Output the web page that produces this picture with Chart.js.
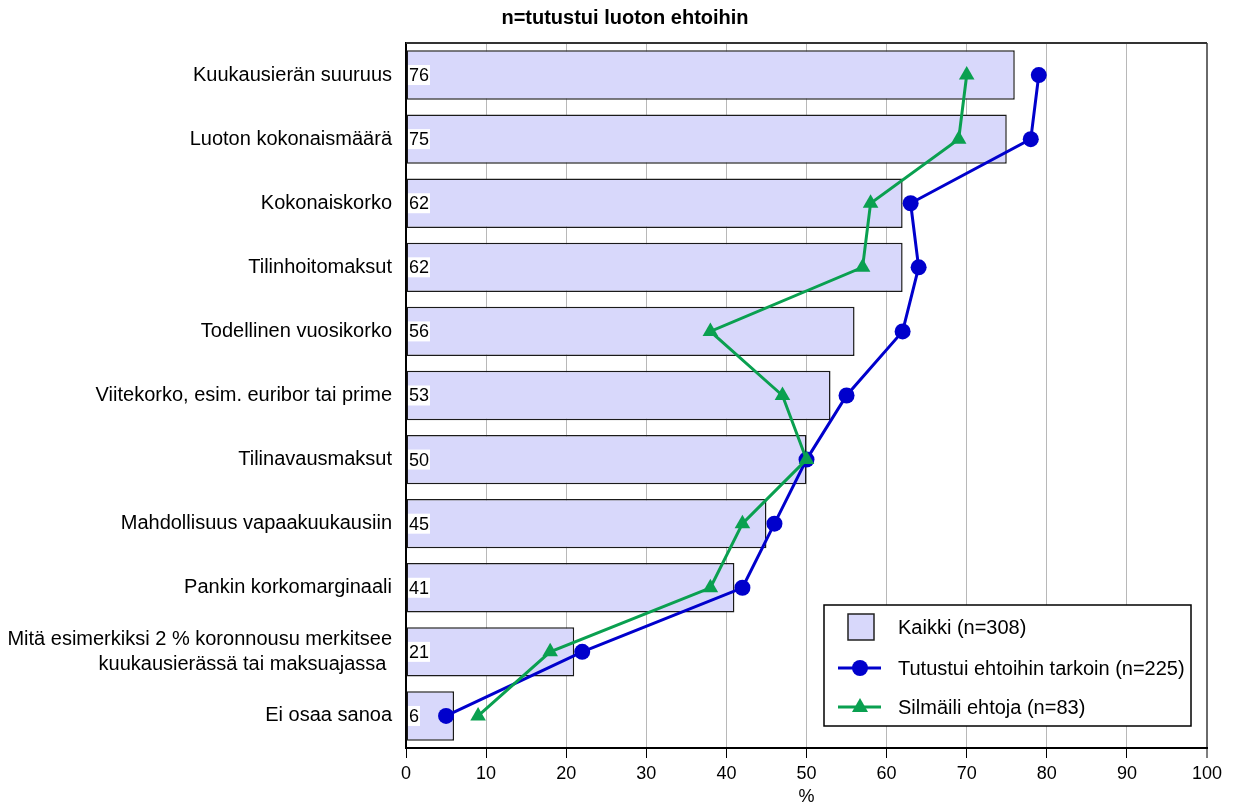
<!DOCTYPE html>
<html>
<head>
<meta charset="utf-8">
<script src="https://cdn.jsdelivr.net/npm/chart.js@4/dist/chart.umd.min.js"></script>
<style>
  html, body { margin: 0; padding: 0; background: #fff; }
  #wrap { width: 1236px; height: 807px; position: relative; }
</style>
</head>
<body>
<div id="wrap"><canvas id="c" width="1236" height="807"></canvas></div>
<script>
const chartTitle = 'n=tutustui luoton ehtoihin';
const categories = [
  'Kuukausierän suuruus',
  'Luoton kokonaismäärä',
  'Kokonaiskorko',
  'Tilinhoitomaksut',
  'Todellinen vuosikorko',
  'Viitekorko, esim. euribor tai prime',
  'Tilinavausmaksut',
  'Mahdollisuus vapaakuukausiin',
  'Pankin korkomarginaali',
  ['Mitä esimerkiksi 2 % koronnousu merkitsee', 'kuukausierässä tai maksuajassa '],
  'Ei osaa sanoa'
];
const seriesNames = ['Kaikki (n=308)', 'Tutustui ehtoihin tarkoin (n=225)', 'Silmäili ehtoja (n=83)'];
const kaikki   = [76, 75, 62, 62, 56, 53, 50, 45, 41, 21, 6];
const tarkoin  = [79, 78, 63, 64, 62, 55, 50, 46, 42, 22, 5];
const silmaili = [70, 69, 58, 57, 38, 47, 50, 42, 38, 18, 9];
const xTicks = [0, 10, 20, 30, 40, 50, 60, 70, 80, 90, 100];
const axisTitle = '%';

const FONT = "'Liberation Sans', Arial, Helvetica, sans-serif";
const BAR_FILL = '#d8d8fb';
const BLUE = '#0000cc';
const GREEN = '#0aa050';

Chart.defaults.font.family = FONT;
Chart.defaults.color = '#000';

// Title, top frame line, value labels and the legend box
const decorations = {
  id: 'decorations',
  afterDatasetDraw(chart, args) {
    if (args.index !== 0) return;
    const ctx = chart.ctx;
    const meta = chart.getDatasetMeta(0);
    const x0 = chart.scales.x.getPixelForValue(0);
    ctx.save();
    ctx.font = '18px ' + FONT;
    ctx.textBaseline = 'middle';
    ctx.textAlign = 'left';
    meta.data.forEach((bar, i) => {
      const txt = String(kaikki[i]);
      const w = ctx.measureText(txt).width;
      ctx.fillStyle = '#fff';
      ctx.fillRect(x0 + 2, bar.y - 10, w + 2, 20);
      ctx.fillStyle = '#000';
      ctx.fillText(txt, x0 + 3, bar.y + 1);
    });
    ctx.restore();
  },
  afterDraw(chart) {
    const ctx = chart.ctx;
    const a = chart.chartArea;
    ctx.save();
    // frame line along the top of the plot
    ctx.strokeStyle = '#333';
    ctx.lineWidth = 2;
    ctx.beginPath();
    ctx.moveTo(a.left, a.top);
    ctx.lineTo(a.right, a.top);
    ctx.stroke();

    // title
    ctx.font = 'bold 20px ' + FONT;
    ctx.fillStyle = '#000';
    ctx.textAlign = 'center';
    ctx.textBaseline = 'middle';
    ctx.fillText(chartTitle, 625, 18);

    // legend
    const lw = 367, lh = 121;
    const lx = a.right - 16 - lw, ly = a.bottom - 22 - lh;
    ctx.fillStyle = '#fff';
    ctx.fillRect(lx, ly, lw, lh);
    ctx.strokeStyle = '#000';
    ctx.lineWidth = 1.5;
    ctx.strokeRect(lx, ly, lw, lh);
    const rows = [ly + 22, ly + 63, ly + 102];
    const symX = lx + 36;
    // bar swatch
    ctx.fillStyle = BAR_FILL;
    ctx.fillRect(symX - 12, rows[0] - 13, 26, 26);
    ctx.strokeStyle = '#222';
    ctx.lineWidth = 1.5;
    ctx.strokeRect(symX - 12, rows[0] - 13, 26, 26);
    // blue line + circle
    ctx.strokeStyle = BLUE; ctx.fillStyle = BLUE; ctx.lineWidth = 3;
    ctx.beginPath(); ctx.moveTo(lx + 14, rows[1]); ctx.lineTo(lx + 57, rows[1]); ctx.stroke();
    ctx.beginPath(); ctx.arc(symX, rows[1], 8, 0, Math.PI * 2); ctx.fill();
    // green line + triangle
    ctx.strokeStyle = GREEN; ctx.fillStyle = GREEN;
    ctx.beginPath(); ctx.moveTo(lx + 14, rows[2]); ctx.lineTo(lx + 57, rows[2]); ctx.stroke();
    ctx.beginPath();
    ctx.moveTo(symX, rows[2] - 9); ctx.lineTo(symX + 8, rows[2] + 5); ctx.lineTo(symX - 8, rows[2] + 5);
    ctx.closePath(); ctx.fill();
    // texts
    ctx.fillStyle = '#000';
    ctx.font = '20px ' + FONT;
    ctx.textAlign = 'left';
    ctx.textBaseline = 'middle';
    seriesNames.forEach((n, i) => ctx.fillText(n, lx + 74, rows[i] + 1));
    ctx.restore();
  }
};

new Chart(document.getElementById('c'), {
  type: 'bar',
  data: {
    labels: categories,
    datasets: [
      {
        type: 'bar',
        label: seriesNames[0],
        data: kaikki,
        indexAxis: 'y',
        backgroundColor: BAR_FILL,
        borderColor: '#1a1a1a',
        borderWidth: 1.5,
        borderSkipped: false,
        categoryPercentage: 1,
        barPercentage: 0.77,
        order: 3
      },
      {
        type: 'line',
        label: seriesNames[1],
        data: tarkoin,
        indexAxis: 'y',
        borderColor: BLUE,
        backgroundColor: BLUE,
        borderWidth: 3,
        pointStyle: 'circle',
        pointRadius: 8,
        pointBorderWidth: 0,
        tension: 0,
        fill: false,
        order: 2
      },
      {
        type: 'line',
        label: seriesNames[2],
        data: silmaili,
        indexAxis: 'y',
        borderColor: GREEN,
        backgroundColor: GREEN,
        borderWidth: 3,
        pointStyle: 'triangle',
        pointRadius: 9,
        pointBorderWidth: 0,
        tension: 0,
        fill: false,
        order: 1
      }
    ]
  },
  options: {
    indexAxis: 'y',
    responsive: false,
    animation: false,
    layout: { padding: { left: 0, right: 29, top: 43, bottom: 0 } },
    plugins: {
      legend: { display: false },
      title: { display: false },
      tooltip: { enabled: false }
    },
    scales: {
      x: {
        type: 'linear',
        position: 'bottom',
        min: 0,
        max: 100,
        afterBuildTicks(scale) { scale.ticks = xTicks.map(v => ({ value: v })); },
        afterFit(scale) { scale.height = 59; },
        ticks: { font: { size: 18, lineHeight: 1 }, padding: 7, color: '#000' },
        grid: {
          color: c => (c.tick && c.tick.value === 100) ? '#6a6a6a' : '#b8b8b8',
          lineWidth: c => (c.tick && c.tick.value === 100) ? 2 : 1,
          drawTicks: true,
          tickLength: 10,
          tickColor: '#000',
          tickWidth: 1
        },
        border: { display: true, color: '#000', width: 2 },
        title: { display: true, text: axisTitle, font: { size: 18, lineHeight: 1 }, padding: { top: 4, bottom: 1 }, color: '#000' }
      },
      y: {
        type: 'category',
        position: 'left',
        offset: true,
        afterFit(scale) { scale.width = 406; },
        ticks: { font: { size: 20, lineHeight: 1.25 }, padding: 6, color: '#000', autoSkip: false },
        grid: { display: false },
        border: { display: true, color: '#000', width: 2 }
      }
    }
  },
  plugins: [decorations]
});
</script>
</body>
</html>
